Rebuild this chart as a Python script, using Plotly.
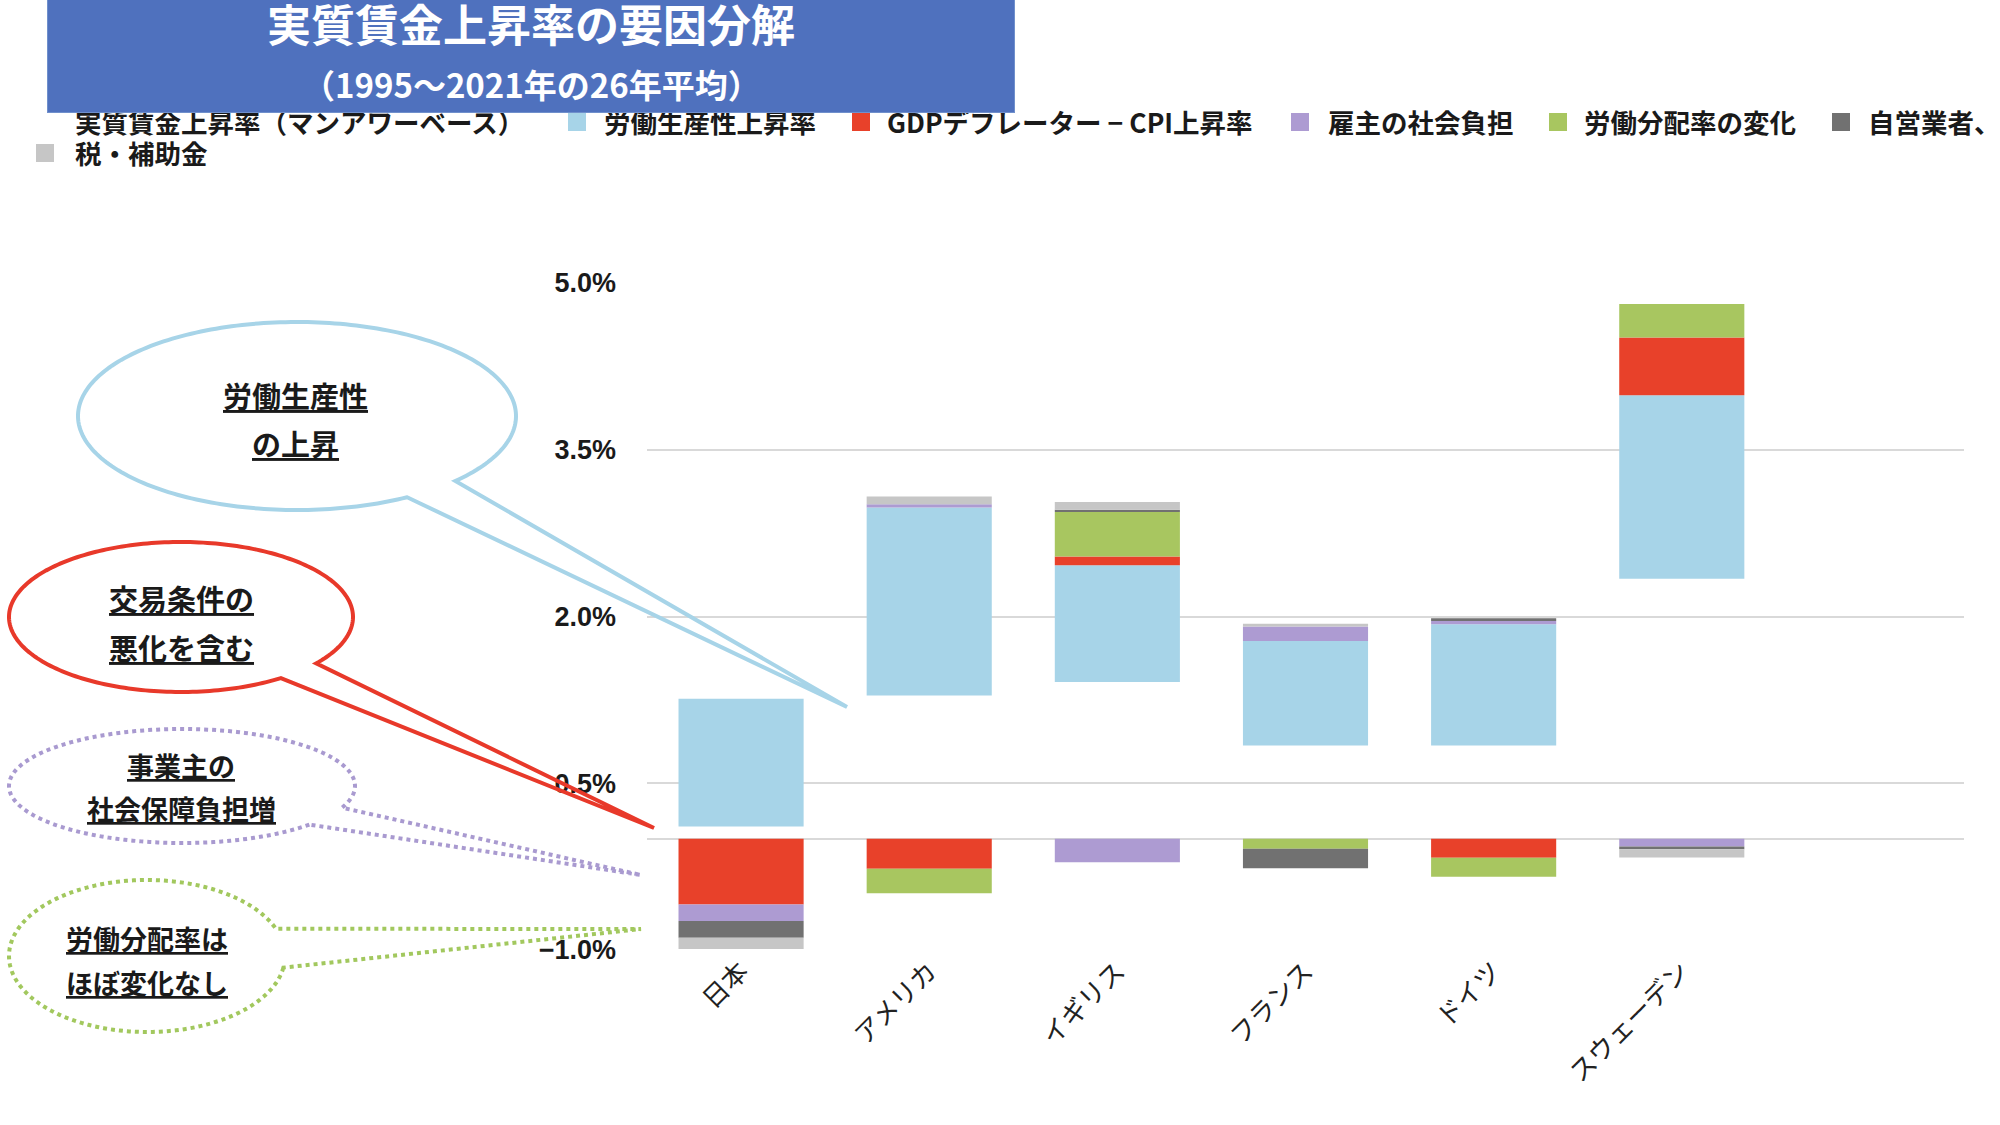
import numpy as np
import plotly.graph_objects as go

# ---------------- data ----------------
countries = ["日本", "アメリカ", "イギリス", "フランス", "ドイツ", "スウェーデン"]
real_wage = [0.11, 1.29, 1.41, 0.84, 0.84, 2.34]          # 実質賃金上昇率（マンアワーベース） – invisible base
productivity = [1.15, 1.69, 1.05, 0.94, 1.09, 1.65]       # 労働生産性上昇率
deflator_gap = [-0.59, -0.27, 0.08, 0.0, -0.17, 0.52]     # GDPデフレーター − CPI上昇率
employer_social = [-0.15, 0.03, -0.21, 0.13, 0.03, -0.07]  # 雇主の社会負担
labor_share = [0.0, -0.22, 0.40, -0.09, -0.17, 0.30]      # 労働分配率の変化
self_employed = [-0.15, 0.0, 0.02, -0.175, 0.024, -0.024]  # 自営業者、
tax_subsidy = [-0.10, 0.07, 0.07, 0.024, 0.0, -0.075]      # 税・補助金

series_names = ["実質賃金上昇率（マンアワーベース）", "労働生産性上昇率", "GDPデフレーター − CPI上昇率",
                "雇主の社会負担", "労働分配率の変化", "自営業者、", "税・補助金"]
series_values = [real_wage, productivity, deflator_gap, employer_social, labor_share, self_employed, tax_subsidy]
series_colors = ["rgba(0,0,0,0)", "#a7d4e8", "#e8412a", "#ad9bd2", "#a8c660", "#717171", "#c6c6c6"]

y_ticks_start, y_ticks_step = -1.0, 1.5

# ---------------- layout geometry ----------------
W, H = 2000, 1125
L, R, T, B = 647, 36, 283, 175
PW, PH = W - L - R, H - T - B


def fx(x):
    return (x - L) / PW


def fy(y):
    return (H - B - y) / PH


CJK = "Noto Sans CJK JP"

fig = go.Figure()
for name, vals, col in zip(series_names, series_values, series_colors):
    fig.add_trace(go.Bar(
        x=countries, y=vals, name=name, marker=dict(color=col, line=dict(width=0)),
        showlegend=False, hoverinfo="skip" if col.startswith("rgba") else None,
    ))

fig.update_layout(
    width=W, height=H,
    margin=dict(l=L, r=R, t=T, b=B, autoexpand=False),
    barmode="relative", bargap=0.335,
    plot_bgcolor="white", paper_bgcolor="white",
    showlegend=False,
    xaxis=dict(
        type="category", categoryorder="array", categoryarray=countries,
        range=[-0.5, 6.5], showgrid=False, showline=False, zeroline=False,
        tickangle=-45, tickfont=dict(family=CJK, size=26, color="#222222"),
        ticks="",
    ),
    yaxis=dict(
        range=[-1.0, 5.0], tick0=y_ticks_start, dtick=y_ticks_step,
        tickformat=".1f", ticksuffix="%",
        showgrid=True, gridcolor="#d9d9d9", gridwidth=2,
        zeroline=True, zerolinecolor="#d9d9d9", zerolinewidth=2,
        showline=False, ticks="", ticklabelstandoff=30,
        tickfont=dict(family="Liberation Sans", size=27, color="#1a1a1a", weight="bold"),
    ),
)

shapes = []
annotations = []


# ---------------- callouts ----------------
def callout(cx, cy, rx, ry, th1, th2, tip, color, width, dash="solid"):
    ang = np.radians(np.linspace(th2, th1 + 360, 240))
    xs = cx + rx * np.cos(ang)
    ys = cy + ry * np.sin(ang)
    pts = [f"{fx(a):.5f},{fy(b):.5f}" for a, b in zip(xs, ys)]
    path = "M" + " L".join(pts) + f" L{fx(tip[0]):.5f},{fy(tip[1]):.5f} Z"
    shapes.append(dict(type="path", path=path, xref="paper", yref="paper",
                       line=dict(color=color, width=width, dash=dash),
                       fillcolor="rgba(0,0,0,0)", layer="above"))


callout(297, 416, 219, 94, 43.7, 59.8, (847, 707), "#a7d4e8", 4)
callout(181, 617, 172, 75, 38.2, 54.5, (654, 828), "#e8392a", 4)
callout(182, 786, 173, 57, 22.3, 42.6, (641, 875), "#a99ad0", 4, "dot")
callout(147, 956, 138, 76, -21.0, 8.8, (641, 929), "#a2c85e", 4, "dot")


def label(x, y, text, size, color="#1a1a1a", xanchor="center", family=CJK):
    annotations.append(dict(x=fx(x), y=fy(y), xref="paper", yref="paper", text=text,
                            showarrow=False, xanchor=xanchor, yanchor="middle",
                            font=dict(family=family, size=size, color=color)))


label(295, 395, "<b><u>労働生産性</u></b>", 29)
label(295, 443, "<b><u>の上昇</u></b>", 29)
label(181, 598, "<b><u>交易条件の</u></b>", 29)
label(181, 647, "<b><u>悪化を含む</u></b>", 29)
label(181, 765, "<b><u>事業主の</u></b>", 27)
label(181, 808, "<b><u>社会保障負担増</u></b>", 27)
label(147, 938, "<b><u>労働分配率は</u></b>", 27)
label(147, 983, "<b><u>ほぼ変化なし</u></b>", 27)

# ---------------- manual legend ----------------
legend_items = [
    (45, 73, 122),
    (577, 602, 122),
    (861, 885, 122),
    (1300, 1326, 122),
    (1558, 1582, 122),
    (1841, 1866, 122),
    (45, 73, 153),
]
for (mx, tx, yy), name, col in zip(legend_items, series_names, series_colors):
    if not col.startswith("rgba"):
        shapes.append(dict(type="rect", xref="paper", yref="paper",
                           x0=fx(mx - 9), x1=fx(mx + 9), y0=fy(yy - 9), y1=fy(yy + 9),
                           fillcolor=col, line=dict(width=0), layer="above"))
    label(tx, yy, f"<b>{name}</b>", 26.5, xanchor="left")

# ---------------- title box (drawn after legend so it overlaps it) ----------------
annotations.append(dict(x=fx(531), y=fy(40), xref="paper", yref="paper", text=" ",
                        showarrow=False, xanchor="center", yanchor="middle",
                        width=966, height=144, bgcolor="#4f71be", bordercolor="#7090cc",
                        borderwidth=1, borderpad=0))
label(531, 23, "<b>実質賃金上昇率の要因分解</b>", 44, color="white")
label(531, 84, "<b>（1995〜2021年の26年平均）</b>", 33, color="white")

fig.update_layout(shapes=shapes, annotations=annotations)
fig.write_html("out.html")
